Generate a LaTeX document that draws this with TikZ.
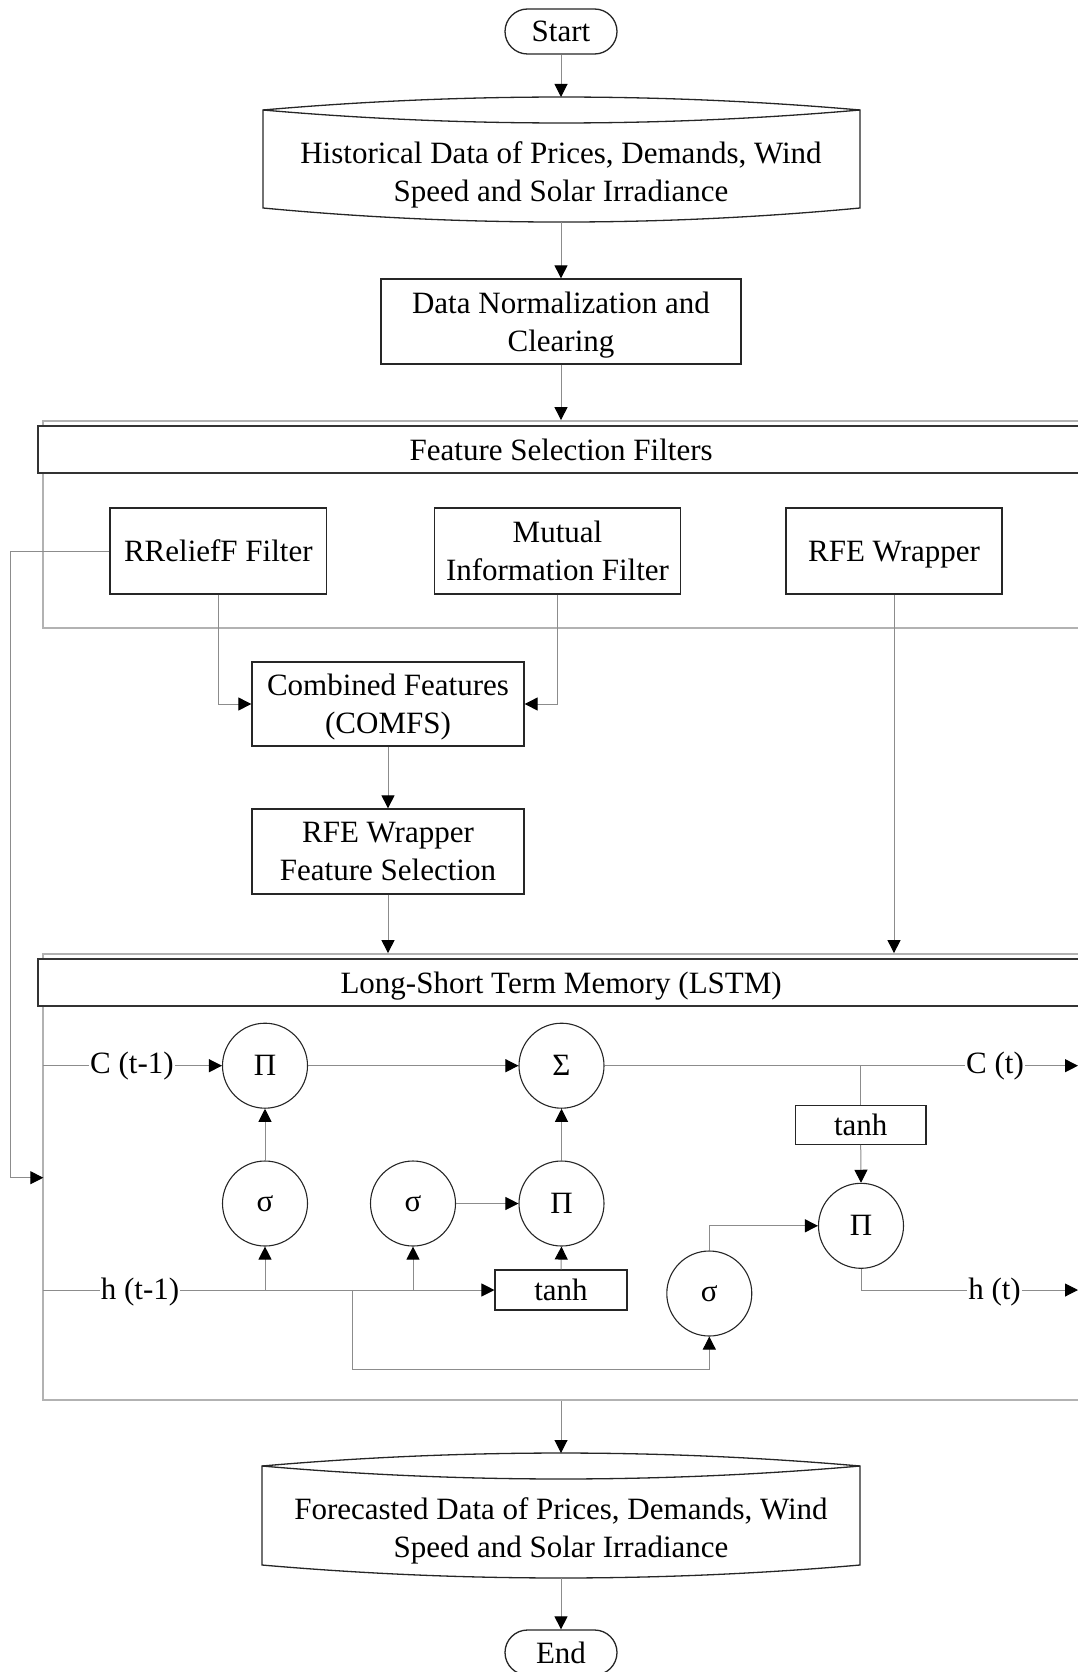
\documentclass[tikz,border=0pt]{standalone}
\usepackage{fontspec}
\setmainfont{Liberation Serif}
\usetikzlibrary{arrows.meta,calc}
\newcommand\diagfont{\fontsize{31}{38}\selectfont}
\begin{document}
\begin{tikzpicture}[x=1pt,y=-1pt,
  box/.style={draw=black!85, line width=1.3pt, fill=white, align=center, inner sep=1pt, font=\diagfont, text depth=0pt},
  term/.style={draw=black!85, line width=1.3pt, fill=white, inner sep=1pt, font=\diagfont, rounded corners=22.5pt, minimum width=112pt, minimum height=45pt},
  circ/.style={circle, draw=black!85, line width=1.1pt, minimum size=85pt, inner sep=0pt, font=\diagfont},
  txt/.style={align=center, inner sep=1pt, font=\diagfont},
  outline/.style={draw=black!85, line width=1.3pt},
  frame/.style={draw=black!30, line width=1.8pt, inner sep=0pt},
  header/.style={draw=black!80, line width=1.8pt, fill=white, inner sep=0pt, font=\diagfont, text depth=0pt},
  wire/.style={draw=black!45, line width=1pt},
  conn/.style={wire, -{Triangle[length=13pt,width=13pt,color=black]}}
]
\useasboundingbox (0,0) rectangle (1078,1672);
\clip (0,0) rectangle (1078,1672);

% ---- frames
\node[frame, minimum width=1035.7pt, minimum height=207pt] (fsframe) at (561.15,524.5) {};
\node[header, minimum width=1045.7pt, minimum height=46.7pt] (fshead) at (561.15,449.35) {Feature Selection Filters};
\node[frame, minimum width=1035.7pt, minimum height=446pt] (lstmframe) at (561.15,1177) {};
\node[header, minimum width=1045.7pt, minimum height=46.7pt] (lstmhead) at (561.15,982.65) {Long-Short Term Memory (LSTM)};

% ---- start / historical data
\node[term] (start) at (561,31.5) {Start};
\coordinate (h1) at (263,110); \coordinate (h2) at (860,110);
\coordinate (h3) at (860,208); \coordinate (h4) at (263,208);
\draw[outline] (h1) .. controls (462,92.7) and (661,92.7) .. (h2) -- (h3)
   .. controls (661,226.7) and (462,226.7) .. (h4) -- cycle;
\draw[outline] (h1) .. controls (462,127.3) and (661,127.3) .. (h2);
\node[txt] (histtext) at (561,174.8) {Historical Data of Prices, Demands, Wind\\Speed and Solar Irradiance};
\coordinate (histtop) at (561,97);
\coordinate (histbot) at (561,222);

\node[box, minimum width=360pt, minimum height=85pt] (norm) at (561,321.5) {Data Normalization and\\Clearing};

% ---- feature selection
\node[box, minimum width=216.6pt, minimum height=86pt] (rrelief) at (218.3,551) {RReliefF Filter};
\node[box, minimum width=246pt, minimum height=86pt] (mutual) at (557.5,551) {Mutual\\Information Filter};
\node[box, minimum width=216pt, minimum height=86pt] (rfe) at (894,551) {RFE Wrapper};
\node[box, minimum width=272pt, minimum height=84pt] (comb) at (388,704) {Combined Features\\(COMFS)};
\node[box, minimum width=272pt, minimum height=85pt] (rfews) at (388,851.5) {RFE Wrapper\\Feature Selection};

% ---- LSTM cell
\node[txt] (cprev) at (132,1065.7) {C (t-1)};
\node[circ] (pi1) at (265,1065.7) {Π};
\node[circ] (sum) at (561.5,1065.7) {Σ};
\node[txt] (cnext) at (995,1065.7) {C (t)};
\node[box, line width=1.1pt, minimum width=130.5pt, minimum height=39.3pt] (tanh2) at (860.7,1124.7) {tanh};
\node[circ] (sig1) at (265,1203.5) {σ};
\node[circ] (sig2) at (413,1203.5) {σ};
\node[circ] (pi2) at (561.5,1203.5) {Π};
\node[circ] (pi3) at (861,1225.8) {Π};
\node[txt] (hprev) at (140,1292) {h (t-1)};
\node[box, line width=1.1pt, minimum width=132pt, minimum height=40pt] (tanh1) at (561,1290) {tanh};
\node[circ] (sig3) at (709.3,1293.5) {σ};
\node[txt] (hnext) at (994.5,1292) {h (t)};

\coordinate (cstart) at (43.3,1065.7);
\coordinate (cend) at (1078,1065.7);
\coordinate (hstart) at (43.3,1290);
\coordinate (hend) at (1078,1290);
\coordinate (hb) at (352.7,1290);
\coordinate (hlow) at (352.7,1369);
\coordinate (lft) at (10.3,551);
\coordinate (lstmin) at (43.3,1177.7);

% ---- forecast / end
\coordinate (f1) at (262,1466); \coordinate (f2) at (860,1466);
\coordinate (f3) at (860,1565); \coordinate (f4) at (262,1565);
\draw[outline] (f1) .. controls (461,1448.7) and (661,1448.7) .. (f2) -- (f3)
   .. controls (661,1582.3) and (461,1582.3) .. (f4) -- cycle;
\draw[outline] (f1) .. controls (461,1483.3) and (661,1483.3) .. (f2);
\node[txt] (fctext) at (561,1530.8) {Forecasted Data of Prices, Demands, Wind\\Speed and Solar Irradiance};
\coordinate (fctop) at (561,1453);
\coordinate (fcbot) at (561,1578);
\node[term] (endn) at (561,1652.5) {End};

% ---- connectors: main flow
\draw[conn] (start.south) -- (histtop);
\draw[conn] (histbot) -- (norm.north);
\draw[conn] (norm.south) -- (norm.south |- fsframe.north);
\draw[conn] (rrelief.south) |- (comb.west);
\draw[conn] (mutual.south) |- (comb.east);
\draw[conn] (comb.south) -- (rfews.north);
\draw[conn] (rfews.south) -- (rfews.south |- lstmframe.north);
\draw[conn] (rfe.south) -- (rfe.south |- lstmframe.north);
\draw[conn] (rrelief.west) -- (lft) |- (lstmin);
\draw[conn] (lstmframe.south -| norm.south) -- (fctop);
\draw[conn] (fcbot) -- (endn.north);

% ---- connectors: LSTM cell
\draw[wire] (cstart) -- (cprev.west);
\draw[conn] (cprev.east) -- (pi1.west);
\draw[conn] (pi1.east) -- (sum.west);
\draw[wire] (sum.east) -- (cnext.west);
\draw[conn] (cnext.east) -- (cend);
\draw[wire] (tanh2.north |- sum.east) -- (tanh2.north);
\draw[conn] (tanh2.south) -- (pi3.north);
\draw[conn] (sig1.north) -- (pi1.south);
\draw[conn] (sig2.east) -- (pi2.west);
\draw[conn] (pi2.north) -- (sum.south);
\draw[wire] (hstart) -- (hprev.west |- hstart);
\draw[conn] (hprev.east |- hstart) -- (tanh1.west);
\draw[conn] (tanh1.north) -- (pi2.south);
\draw[conn] (sig1.south |- hstart) -- (sig1.south);
\draw[conn] (sig2.south |- hstart) -- (sig2.south);
\draw[conn] (hb) -- (hlow) -| (sig3.south);
\draw[conn] (sig3.north) |- (pi3.west);
\draw[wire] (pi3.south) |- (hnext.west |- hstart);
\draw[conn] (hnext.east |- hstart) -- (hend);
\end{tikzpicture}
\end{document}
